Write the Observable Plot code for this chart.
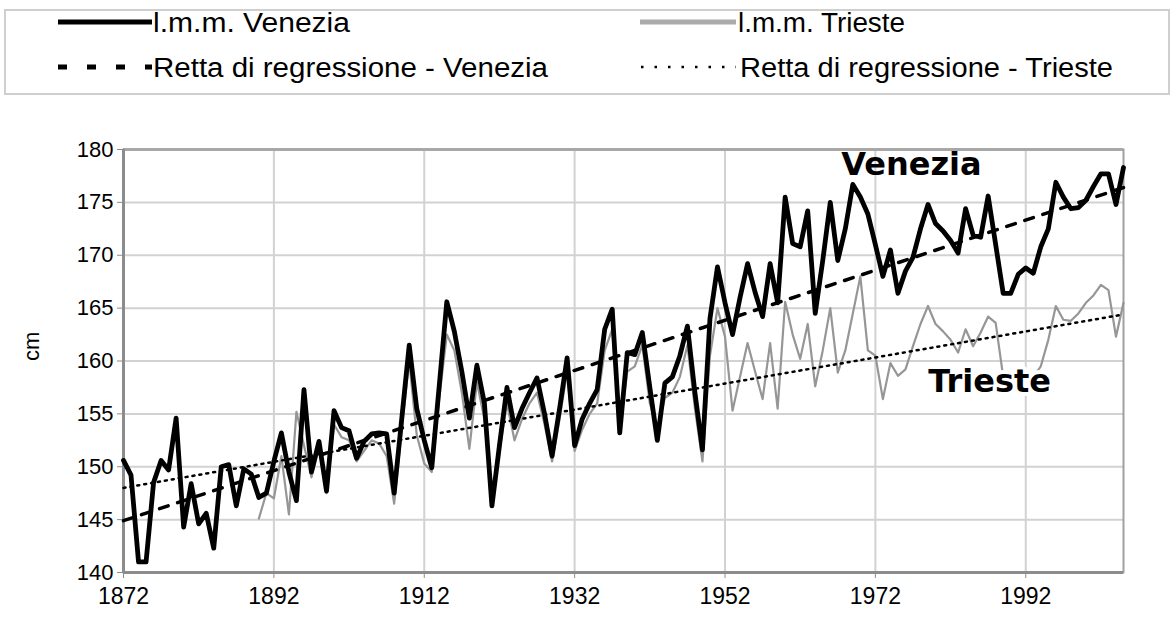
<!DOCTYPE html>
<html><head><meta charset="utf-8">
<script src="https://cdn.jsdelivr.net/npm/d3@7"></script>
<script src="https://cdn.jsdelivr.net/npm/@observablehq/plot@0.6"></script>
<style>
body{margin:0;background:#fff;width:1176px;height:626px;overflow:hidden;font-family:"Liberation Sans",Arial,sans-serif}
svg{display:block}
</style></head><body>
<svg id="legend" width="1176" height="100"></svg>
<div id="chart"></div>
<script>
// ---- data ----
const startYear = 1872;
const venezia = [
150.6,149.2,141.0,141.0,148.5,150.6,149.7,154.6,144.3,148.4,
144.6,145.6,142.3,150.0,150.2,146.3,149.8,149.3,147.1,147.5,
150.5,153.2,149.5,146.8,157.3,149.5,152.4,147.7,155.3,153.7,
153.4,150.8,152.4,153.1,153.2,153.1,147.5,154.5,161.5,155.5,
152.5,149.9,157.7,165.6,162.8,159.0,154.6,159.6,156.0,146.3,
152.0,157.5,153.7,155.5,157.0,158.4,155.0,151.0,155.5,160.3,
152.0,154.5,156.0,157.3,163.0,164.9,153.2,160.8,160.6,162.7,
157.5,152.5,157.9,158.5,160.5,163.3,157.0,151.6,164.0,168.9,
165.5,162.5,166.0,169.2,166.5,164.2,169.2,165.5,175.5,171.1,
170.8,174.2,164.5,169.5,175.0,169.5,172.5,176.7,175.5,173.9,
171.0,168.0,170.5,166.4,168.5,169.8,172.5,174.8,173.0,172.3,
171.4,170.2,174.4,171.9,171.7,175.6,171.0,166.4,166.4,168.2,
168.8,168.3,170.8,172.5,176.9,175.5,174.4,174.5,175.2,176.5,
177.7,177.7,174.8,178.3];
const triesteStart = 1890;
const trieste = [
145.1,147.5,147.0,151.0,145.5,155.2,152.0,149.0,151.8,147.5,
154.0,152.8,152.5,150.5,151.5,152.5,152.2,151.0,146.5,153.5,
160.0,153.0,150.3,149.5,156.5,162.5,161.0,157.0,151.7,158.0,
154.5,147.0,151.5,156.0,152.5,154.5,156.0,157.0,154.0,150.5,
154.5,159.0,151.5,153.5,155.0,156.0,161.0,163.0,153.5,159.0,
159.5,161.5,156.0,153.5,156.5,157.0,158.5,161.5,155.5,150.5,
160.5,165.0,162.3,155.3,158.5,161.7,159.0,156.4,161.7,155.5,
165.6,162.5,160.2,163.5,157.6,161.0,165.0,158.9,161.0,164.5,
168.0,161.0,160.5,156.4,159.8,158.6,159.2,161.4,163.5,165.2,
163.5,162.8,162.0,160.8,163.0,161.4,162.7,164.2,163.6,158.5,
157.5,158.0,157.8,158.5,159.5,162.0,165.2,163.9,163.8,164.5,
165.5,166.2,167.2,166.7,162.3,165.5];
const regYears = [1872, 2005];
const regVenezia = [144.9, 176.4];
const regTrieste = [148.0, 164.4];
const xTicks = [1872,1892,1912,1932,1952,1972,1992];
const yTicks = [140,145,150,155,160,165,170,175,180];
const legendLabels = ["l.m.m. Venezia","l.m.m. Trieste","Retta di regressione - Venezia","Retta di regressione - Trieste"];
const seriesLabels = ["Venezia","Trieste"];
const yLabel = "cm";

// ---- legend ----
const FONT = '"Liberation Sans", Arial, sans-serif';
const lg = d3.select("#legend");
lg.append("rect").attr("x",5).attr("y",10).attr("width",1164).attr("height",84)
  .attr("fill","none").attr("stroke","#cfcfcf").attr("stroke-width",2);
const items = [
  {label:legendLabels[0], x1:58, x2:152, y:22, stroke:"#000", w:5, dash:null, tx:153, len:197},
  {label:legendLabels[1], x1:640, x2:736, y:22, stroke:"#ababab", w:5, dash:null, tx:738, len:167},
  {label:legendLabels[2], x1:58, x2:152, y:67, stroke:"#000", w:5, dash:"9,20", tx:153, len:395},
  {label:legendLabels[3], x1:641, x2:736, y:67, stroke:"#000", w:2.5, dash:"2.5,11", tx:740, len:373}
];
items.forEach(it=>{
  const l = lg.append("line").attr("x1",it.x1).attr("x2",it.x2).attr("y1",it.y).attr("y2",it.y)
    .attr("stroke",it.stroke).attr("stroke-width",it.w);
  if(it.dash) l.attr("stroke-dasharray",it.dash);
  lg.append("text").attr("x",it.tx).attr("y",it.y+10).attr("font-family",FONT).attr("font-size",27)
    .attr("textLength",it.len).attr("lengthAdjust","spacingAndGlyphs").attr("fill","#000").text(it.label);
});

// ---- chart ----
const vData = venezia.map((v,i)=>({year:startYear+i, value:v}));
const tData = trieste.map((v,i)=>({year:triesteStart+i, value:v}));
const rv = regYears.map((y,i)=>({year:y, value:regVenezia[i]}));
const rt = regYears.map((y,i)=>({year:y, value:regTrieste[i]}));

const chart = Plot.plot({
  width:1176, height:526,
  marginTop:49, marginBottom:54, marginLeft:123, marginRight:53,
  style:{fontFamily:FONT, fontSize:"22px", color:"#000", background:"#fff"},
  x:{domain:[1872,2005], label:null},
  y:{domain:[140,180], label:null},
  marks:[
    Plot.ruleY(yTicks,{stroke:"#d2d2d2",strokeWidth:2}),
    Plot.ruleX(xTicks,{stroke:"#d2d2d2",strokeWidth:2}),
    Plot.frame({stroke:"#a0a0a0",strokeWidth:2}),
    Plot.ruleY([180],{stroke:"#a8a8a8",strokeWidth:3}),
    Plot.ruleX([1872],{stroke:"#8c8c8c",strokeWidth:3}),
    Plot.ruleY([140],{stroke:"#8c8c8c",strokeWidth:3}),
    Plot.axisY({ticks:yTicks, tickSize:6, tickPadding:4, fontSize:22, stroke:"#8c8c8c", label:null}),
    Plot.axisX({ticks:xTicks, tickSize:6, tickPadding:9, fontSize:23, stroke:"#8c8c8c", tickFormat:d=>String(d), label:null}),
    Plot.line(tData,{x:"year",y:"value",stroke:"#969696",strokeWidth:2.2}),
    Plot.line(vData,{x:"year",y:"value",stroke:"#000",strokeWidth:4.8,strokeLinejoin:"round"}),
    Plot.line(rt,{x:"year",y:"value",stroke:"#000",strokeWidth:2.5,strokeDasharray:"2,5"}),
    Plot.line(rv,{x:"year",y:"value",stroke:"#000",strokeWidth:3.5,strokeDasharray:"9,10"}),
    Plot.text([yLabel],{frameAnchor:"left", dx:-92, rotate:-90, text:d=>d, fontSize:22, fill:"#000"}),
    Plot.text([{label:seriesLabels[0], year:1976.8, value:178.6}],{x:"year",y:"value",text:"label",fontSize:32,fontWeight:"bold",fontFamily:"DejaVu Sans",fill:"#000"}),
    Plot.text([{label:seriesLabels[1], year:1987.2, value:158.0}],{x:"year",y:"value",text:"label",fontSize:32,fontWeight:"bold",fontFamily:"DejaVu Sans",fill:"#000",stroke:"#fff",strokeWidth:8,paintOrder:"stroke"})
  ]
});
document.getElementById("chart").appendChild(chart);
</script>
</body></html>
